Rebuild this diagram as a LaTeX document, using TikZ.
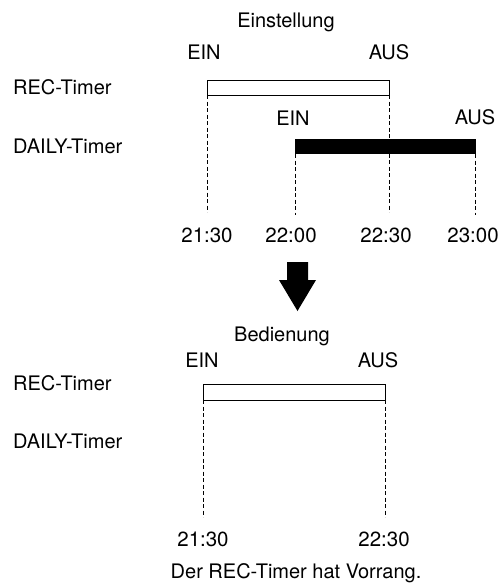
\documentclass[tikz,border=0pt]{standalone}
\usepackage{fontspec}
\setmainfont{TeX Gyre Heros}
\begin{document}
\begin{tikzpicture}[x=1pt,y=-1pt,
  lbl/.style={font=\fontsize{20}{23}\selectfont, inner sep=0pt, anchor=base},
  llbl/.style={lbl, anchor=base west},
  tlbl/.style={font=\fontsize{20.5}{23}\selectfont, inner sep=0pt, anchor=base},
  guide/.style={line width=0.9pt, dash pattern=on 4pt off 2.5pt},
  openbar/.style={draw, line width=1pt, fill=white},
  solidbar/.style={fill=black}]
\useasboundingbox (0,0) rectangle (500,584);
% ---------- Einstellung ----------
\node[lbl] (t1) at (286,27) {Einstellung};
\node[lbl] (ein1) at (204,59) {EIN};
\node[lbl] (aus1) at (389,59) {AUS};
\node[llbl] (rec1) at (13,94) {REC-Timer};
\node[lbl] (ein2) at (293,125) {EIN};
\node[lbl] (aus2) at (475,124) {AUS};
\node[llbl] (daily1) at (13,153) {DAILY-Timer};
\node[tlbl] (h2130a) at (207,242) {21:30};
\node[tlbl] (h2200) at (291,242) {22:00};
\node[tlbl] (h2230a) at (386,242) {22:30};
\node[tlbl] (h2300) at (473,242) {23:00};
\coordinate (r1a) at (207,80);
\coordinate (r1b) at (389,95);
\coordinate (d1a) at (295,139);
\coordinate (d1b) at (476,154);
\draw[openbar] (r1a) rectangle (r1b);
\fill[solidbar] (d1a) rectangle (d1b);
\coordinate (g1s) at (207,95);  \coordinate (g1e) at (207,212);
\coordinate (g2s) at (389,95);  \coordinate (g2e) at (389,212);
\coordinate (g3s) at (295,154); \coordinate (g3e) at (295,215);
\coordinate (g4s) at (475,154); \coordinate (g4e) at (475,215);
\draw[guide] (g1s) -- (g1e);
\draw[guide] (g2s) -- (g2e);
\draw[guide] (g3s) -- (g3e);
\draw[guide] (g4s) -- (g4e);
% ---------- arrow ----------
\fill (287,262) -- (308,262) -- (308,280) -- (316,280) -- (297.5,311) -- (279,280) -- (287,280) -- cycle;
% ---------- Bedienung ----------
\node[lbl] (t2) at (282,341) {Bedienung};
\node[lbl] (ein3) at (202,367) {EIN};
\node[lbl] (aus3) at (378,367) {AUS};
\node[llbl] (rec2) at (13,390) {REC-Timer};
\node[llbl] (daily2) at (13,448) {DAILY-Timer};
\node[tlbl] (h2130b) at (203,546) {21:30};
\node[tlbl] (h2230b) at (384,546) {22:30};
\node[lbl] (cap) at (296,578) {Der REC-Timer hat Vorrang.};
\coordinate (r2a) at (203,384);
\coordinate (r2b) at (385,400);
\draw[openbar] (r2a) rectangle (r2b);
\coordinate (g5s) at (203,400); \coordinate (g5e) at (203,517);
\coordinate (g6s) at (385,400); \coordinate (g6e) at (385,517);
\draw[guide] (g5s) -- (g5e);
\draw[guide] (g6s) -- (g6e);
\end{tikzpicture}
\end{document}
